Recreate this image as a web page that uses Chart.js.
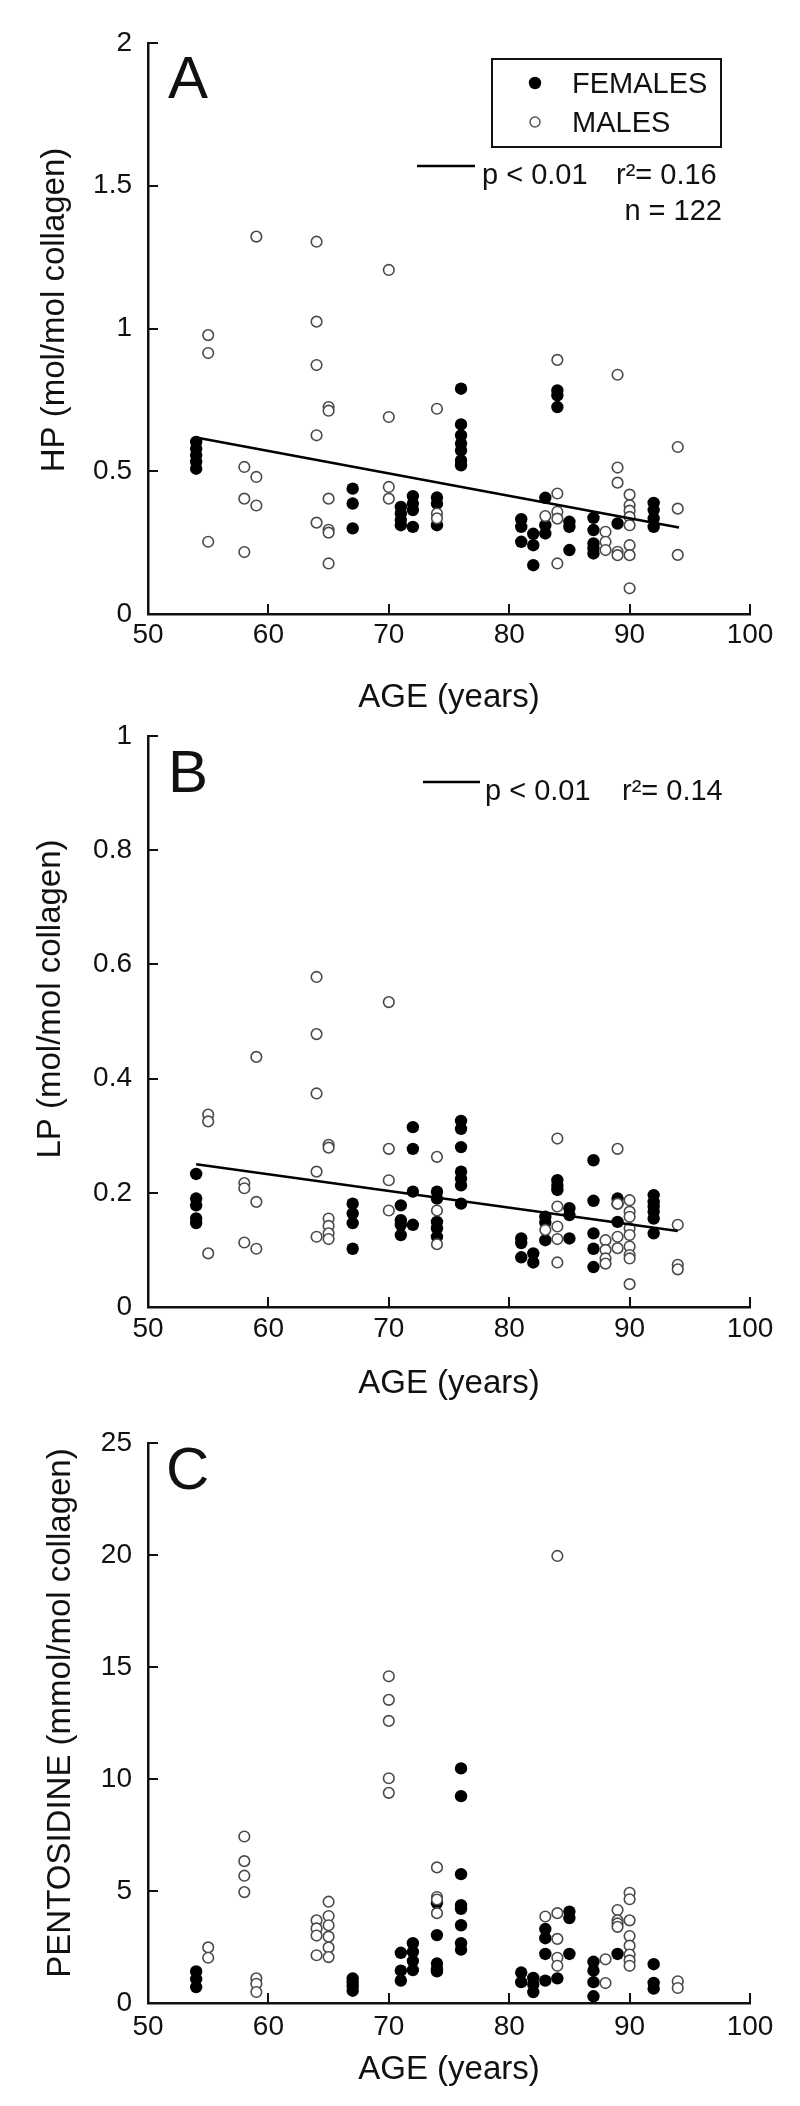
<!DOCTYPE html>
<html><head><meta charset="utf-8">
<script src="https://cdn.jsdelivr.net/npm/chart.js@4.4.1/dist/chart.umd.min.js"></script>
<style>
html,body{margin:0;padding:0;background:#fff;}
body{width:800px;height:2106px;position:relative;overflow:hidden;}
canvas{position:absolute;left:0;}
</style></head><body>
<canvas id="cA" width="800" height="720" style="top:0px"></canvas>
<canvas id="cB" width="800" height="710" style="top:700px"></canvas>
<canvas id="cC" width="800" height="696" style="top:1410px"></canvas>
<script>
// ---------- DATA ----------
const ageTicks = [50, 60, 70, 80, 90, 100];
const hpTicks = [0, 0.5, 1, 1.5, 2];
const hpTickLabels = ['0', '0.5', '1', '1.5', '2'];
const lpTicks = [0, 0.2, 0.4, 0.6, 0.8, 1];
const lpTickLabels = ['0', '0.2', '0.4', '0.6', '0.8', '1'];
const pentTicks = [0, 5, 10, 15, 20, 25];
const pentTickLabels = ['0', '5', '10', '15', '20', '25'];

// Panel A: HP
const hpFemaleAge = [54,54,54,54,54, 67,67,67, 71,71,71,71, 72,72,72,72, 74,74,74, 76,76,76,76,76,76,76, 81,81,81, 82,82,82, 83,83,83, 84,84,84, 85,85,85, 87,87,87,87,87, 89, 92,92,92,92];
const hpFemaleVal = [0.603,0.579,0.556,0.533,0.509, 0.439,0.387,0.300, 0.375,0.352,0.329,0.311, 0.413,0.387,0.364,0.305, 0.408,0.387,0.311, 0.789,0.664,0.626,0.597,0.573,0.538,0.521, 0.332,0.305,0.253, 0.281,0.241,0.171, 0.407,0.311,0.282, 0.783,0.766,0.725, 0.323,0.305,0.224, 0.337,0.294,0.247,0.230,0.212, 0.317, 0.389,0.364,0.335,0.305];
const hpMaleAge = [55,55,55, 58,58,58, 59,59,59, 64,64,64,64,64, 65,65,65,65,65,65, 70,70,70,70, 74,74,74, 83, 84,84,84,84,84, 88,88,88, 89,89,89,89,89, 90,90,90,90,90,90,90,90, 94,94,94];
const hpMaleVal = [0.977,0.914,0.253, 0.515,0.404,0.217, 1.322,0.480,0.380, 1.304,1.024,0.872,0.626,0.320, 0.725,0.712,0.404,0.295,0.285,0.177, 1.205,0.690,0.445,0.404, 0.719,0.352,0.335, 0.343, 0.890,0.422,0.358,0.334,0.177, 0.288,0.253,0.224, 0.838,0.513,0.460,0.218,0.206, 0.418,0.381,0.362,0.340,0.311,0.241,0.206,0.090, 0.585,0.369,0.207];
const hpFitAge = [54, 94.1];
const hpFitVal = [0.618, 0.303];

// Panel B: LP
const lpFemaleAge = [54,54,54,54,54, 67,67,67,67, 71,71,71,71, 72,72,72,72, 74,74,74,74,74, 76,76,76,76,76,76,76, 81,81,81, 82,82, 83,83,83, 84,84,84, 85,85,85, 87,87,87,87,87, 89,89,89, 92,92,92,92,92,92];
const lpFemaleVal = [0.233,0.190,0.178,0.155,0.147, 0.181,0.164,0.147,0.102, 0.178,0.152,0.144,0.126, 0.315,0.277,0.202,0.144, 0.202,0.190,0.149,0.138,0.123, 0.326,0.312,0.280,0.237,0.225,0.213,0.181, 0.120,0.112,0.087, 0.094,0.078, 0.158,0.148,0.117, 0.222,0.213,0.205, 0.173,0.161,0.120, 0.257,0.186,0.129,0.102,0.070, 0.190,0.181,0.149, 0.196,0.184,0.176,0.167,0.155,0.129];
const lpMaleAge = [55,55,55, 58,58,58, 59,59,59, 64,64,64,64,64, 65,65,65,65,65,65, 70,70,70,70, 74,74,74, 83, 84,84,84,84,84, 88,88,88,88, 89,89,89,89, 90,90,90,90,90,90,90,90,90, 94,94,94];
const lpMaleVal = [0.337,0.325,0.094, 0.217,0.208,0.113, 0.438,0.184,0.102, 0.578,0.478,0.374,0.237,0.123, 0.284,0.279,0.155,0.142,0.129,0.119, 0.534,0.277,0.222,0.169, 0.263,0.169,0.110, 0.135, 0.295,0.176,0.141,0.119,0.078, 0.117,0.100,0.085,0.076, 0.277,0.181,0.123,0.103, 0.187,0.167,0.158,0.138,0.126,0.106,0.091,0.085,0.040, 0.144,0.074,0.066];
const lpFitAge = [54, 94];
const lpFitVal = [0.250, 0.133];

// Panel C: pentosidine
const pentFemaleAge = [54,54,54, 67,67,67,67, 71,71,71, 72,72,72,72, 74,74,74,74,74, 76,76,76,76,76,76,76,76, 81,81, 82,82,82, 83,83,83,83, 84, 85,85,85, 87,87,87,87, 89, 92,92,92];
const pentFemaleVal = [1.41,1.07,0.71, 1.10,0.93,0.75,0.55, 2.24,1.44,1.00, 2.67,2.28,1.87,1.47, 4.46,3.03,1.76,1.51,1.41, 10.47,9.23,5.75,4.37,4.20,3.47,2.67,2.38, 1.36,0.93, 1.12,0.83,0.49, 3.30,2.89,2.19,1.00, 1.10, 4.08,3.79,2.19, 1.84,1.44,0.93,0.30, 2.19, 1.73,0.90,0.64];
const pentMaleAge = [55,55, 58,58,58,58, 59,59,59, 64,64,64,64, 65,65,65,65,65,65, 70,70,70,70,70, 74,74,74,74, 83, 84,84,84,84,84, 88,88, 89,89,89,89, 90,90,90,90,90,90,90,90, 94,94];
const pentMaleVal = [2.48,2.02, 7.43,6.33,5.68,4.95, 1.10,0.86,0.49, 3.69,3.33,3.01,2.13, 4.52,3.88,3.47,2.96,2.48,2.05, 14.58,13.53,12.59,10.03,9.38, 6.05,4.73,4.62,4.01, 3.86, 19.95,4.01,2.86,2.02,1.66, 1.95,0.89, 4.15,3.69,3.55,3.40, 4.92,4.63,3.69,2.99,2.56,2.16,1.90,1.66, 0.97,0.67];

// ---------- DRAWING ----------
const FONT = '"Liberation Sans", Arial, Helvetica, sans-serif';
const INK = '#111';

function pts(xs, ys) { return xs.map((x, i) => ({ x: x, y: ys[i] })); }

const decor = {
  id: 'decor',
  afterDraw(chart, args, o) {
    const ctx = chart.ctx, xs = chart.scales.x, ys = chart.scales.y;
    ctx.save();
    // inward tick marks
    ctx.strokeStyle = INK; ctx.lineWidth = 2;
    ctx.beginPath();
    xs.ticks.forEach(t => {
      if (t.value <= xs.min) return;
      const px = Math.round(xs.getPixelForValue(t.value));
      ctx.moveTo(px, ys.bottom); ctx.lineTo(px, ys.bottom - 10);
    });
    ys.ticks.forEach(t => {
      if (t.value <= ys.min) return;
      const py = Math.round(ys.getPixelForValue(t.value));
      ctx.moveTo(xs.left, py); ctx.lineTo(xs.left + 10, py);
    });
    ctx.stroke();
    ctx.fillStyle = INK;
    // y title
    ctx.save();
    ctx.translate(o.yTitle.x, o.yTitle.y); ctx.rotate(-Math.PI / 2);
    ctx.font = '33px ' + FONT; ctx.textAlign = 'center'; ctx.textBaseline = 'middle';
    ctx.fillText(o.yTitle.text, 0, 0);
    ctx.restore();
    // panel letter
    ctx.font = '60px ' + FONT; ctx.textAlign = 'left'; ctx.textBaseline = 'alphabetic';
    ctx.fillText(o.letter.text, o.letter.x, o.letter.y);
    // legend box
    if (o.legend) {
      const L = o.legend;
      ctx.lineWidth = 2; ctx.strokeStyle = INK;
      ctx.strokeRect(L.x, L.y, L.w, L.h);
      ctx.beginPath(); ctx.arc(L.mx, L.fy, 6.2, 0, Math.PI * 2); ctx.fillStyle = '#000'; ctx.fill();
      ctx.beginPath(); ctx.arc(L.mx, L.my, 5, 0, Math.PI * 2); ctx.lineWidth = 1.5; ctx.strokeStyle = '#555'; ctx.stroke();
      ctx.fillStyle = INK; ctx.font = '29px ' + FONT;
      ctx.fillText('FEMALES', L.tx, L.fb);
      ctx.fillText('MALES', L.tx, L.mb);
    }
    // fit annotation
    if (o.fit) {
      const F = o.fit;
      ctx.lineWidth = 2.6; ctx.strokeStyle = '#000';
      ctx.beginPath(); ctx.moveTo(F.x1, F.ly); ctx.lineTo(F.x2, F.ly); ctx.stroke();
      ctx.fillStyle = INK; ctx.font = '29px ' + FONT; ctx.textAlign = 'left';
      ctx.fillText('p < 0.01', F.px, F.base);
      ctx.fillText(F.r2, F.rx, F.base);
      if (F.n) { ctx.textAlign = 'right'; ctx.fillText(F.n, F.nx, F.nb); }
    }
    ctx.restore();
  }
};
Chart.register(decor);

function buildPanel(id, p) {
  const tickFont = { family: FONT, size: 28 };
  new Chart(document.getElementById(id), {
    type: 'scatter',
    data: {
      datasets: [
        { data: p.fit ? pts(p.fit[0], p.fit[1]) : [], showLine: true, borderColor: '#000', borderWidth: 2.6, pointRadius: 0, fill: false },
        { data: pts(p.mAge, p.mVal), pointRadius: 5.3, pointBorderWidth: 1.6, pointBorderColor: '#4a4a4a', pointBackgroundColor: '#ffffff' },
        { data: pts(p.fAge, p.fVal), pointRadius: 6.2, pointBorderWidth: 0, pointBorderColor: '#000', pointBackgroundColor: '#000' }
      ]
    },
    options: {
      responsive: false, animation: false, events: [],
      layout: { padding: { top: p.padTop, right: 50, left: 0, bottom: 0 } },
      plugins: { legend: { display: false }, tooltip: { enabled: false }, decor: p.decor },
      scales: {
        x: {
          type: 'linear', min: 50, max: 100,
          afterBuildTicks: s => { s.ticks = ageTicks.map(v => ({ value: v })); },
          afterFit: s => { s.height = p.xH; },
          grid: { display: true, drawOnChartArea: false, drawTicks: false },
          border: { display: true, color: INK, width: 2.5 },
          ticks: { font: tickFont, color: INK, padding: p.xTickPad, maxRotation: 0, autoSkip: false, callback: v => String(v) },
          title: { display: true, text: 'AGE (years)', color: INK, font: { family: FONT, size: 33, lineHeight: 1.2 }, padding: { top: 0, bottom: p.xTitlePad } }
        },
        y: {
          type: 'linear', min: p.yTicks[0], max: p.yTicks[p.yTicks.length - 1],
          afterBuildTicks: s => { s.ticks = p.yTicks.map(v => ({ value: v })); },
          afterFit: s => { s.width = 148; },
          grid: { display: true, drawOnChartArea: false, drawTicks: false },
          border: { display: true, color: INK, width: 2.5 },
          ticks: { font: tickFont, color: INK, padding: 16, autoSkip: false,
                   callback: (v, i) => p.yLabels[i] }
        }
      }
    }
  });
}

buildPanel('cA', {
  fAge: hpFemaleAge, fVal: hpFemaleVal, mAge: hpMaleAge, mVal: hpMaleVal, fit: [hpFitAge, hpFitVal],
  yTicks: hpTicks, yLabels: hpTickLabels,
  padTop: 43, xH: 106, xTickPad: 4, xTitlePad: 2,
  decor: {
    yTitle: { text: 'HP (mol/mol collagen)', x: 55, y: 310 },
    letter: { text: 'A', x: 168, y: 98 },
    legend: { x: 492, y: 59, w: 229, h: 88, mx: 535, fy: 83, my: 122, tx: 572, fb: 93, mb: 132 },
    fit: { x1: 417, x2: 475, ly: 166, px: 482, rx: 616, base: 184, r2: 'r\u00b2= 0.16', n: 'n = 122', nx: 722, nb: 220 }
  }
});

buildPanel('cB', {
  fAge: lpFemaleAge, fVal: lpFemaleVal, mAge: lpMaleAge, mVal: lpMaleVal, fit: [lpFitAge, lpFitVal],
  yTicks: lpTicks, yLabels: lpTickLabels,
  padTop: 36, xH: 103, xTickPad: 5, xTitlePad: 6,
  decor: {
    yTitle: { text: 'LP (mol/mol collagen)', x: 51, y: 299 },
    letter: { text: 'B', x: 168, y: 92 },
    fit: { x1: 423, x2: 480, ly: 82, px: 485, rx: 622, base: 100, r2: 'r\u00b2= 0.14' }
  }
});

buildPanel('cC', {
  fAge: pentFemaleAge, fVal: pentFemaleVal, mAge: pentMaleAge, mVal: pentMaleVal, fit: null,
  yTicks: pentTicks, yLabels: pentTickLabels,
  padTop: 19, xH: 103, xTickPad: 7, xTitlePad: 16,
  decor: {
    yTitle: { text: 'PENTOSIDINE (mmol/mol collagen)', x: 61, y: 303 },
    letter: { text: 'C', x: 166, y: 79 }
  }
});
</script>
</body></html>
